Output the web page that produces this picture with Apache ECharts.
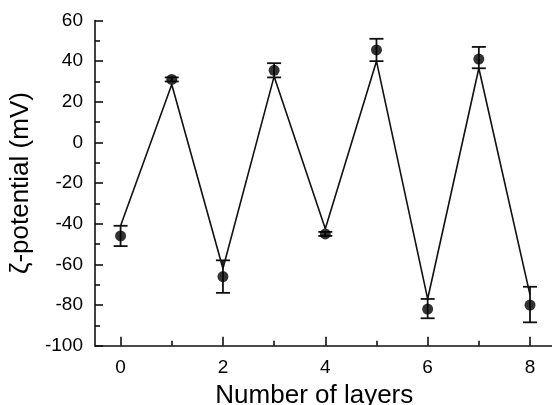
<!DOCTYPE html>
<html>
<head>
<meta charset="utf-8">
<script src="https://cdn.jsdelivr.net/npm/echarts@6/dist/echarts.min.js"></script>
<style>html,body{margin:0;padding:0;background:#fff;}#c{width:552px;height:405px;}</style>
</head>
<body>
<div id="c"></div>
<script>
const layers = [0, 1, 2, 3, 4, 5, 6, 7, 8];
const zeta = [-46, 31, -66, 35.5, -45, 45.5, -82, 41, -80];
const errLow = [-51, 30, -74, 32, -46, 40, -86.5, 36.5, -88.5];
const errHigh = [-41, 32, -58, 39, -44, 51, -77, 47, -71];
const trend = [-41, 28.5, -62, 32.5, -42.5, 40, -77, 36.5, -75];
const yTicks = [-100, -80, -60, -40, -20, 0, 20, 40, 60];
const xMajor = [0, 2, 4, 6, 8];
const xMinor = [1, 3, 5, 7];

const font = '"Liberation Sans", Arial, sans-serif';
const chart = echarts.init(document.getElementById('c'), null, {renderer: 'canvas'});

const pts = layers.map((x, i) => [x, zeta[i]]);
const errData = layers.map((x, i) => [x, errLow[i], errHigh[i]]);
const trendData = layers.map((x, i) => [x, trend[i]]);

chart.setOption({
  backgroundColor: '#fff',
  animation: false,
  grid: {left: 95, top: 20.5, right: -3.6, bottom: 59.3, containLabel: false, outerBoundsMode: 'none'},
  xAxis: [{
    type: 'value', min: -0.5, max: 8.5,
    name: 'Number of layers', nameLocation: 'middle', nameGap: 35,
    nameTextStyle: {fontFamily: font, fontSize: 26, color: '#000', padding: [0, 22, 0, 0]},
    axisLine: {onZero: false, lineStyle: {color: '#111', width: 1.6}},
    axisTick: {inside: true, length: 9, lineStyle: {color: '#111', width: 1.6}, customValues: xMajor},
    axisLabel: {fontFamily: font, fontSize: 19, color: '#000', margin: 13, customValues: xMajor},
    splitLine: {show: false}
  }, {
    type: 'value', min: -0.5, max: 8.5, position: 'bottom',
    axisLine: {show: false, onZero: false},
    axisTick: {inside: true, length: 5, lineStyle: {color: '#111', width: 1.6}, customValues: xMinor},
    axisLabel: {show: false, customValues: xMinor},
    splitLine: {show: false}
  }],
  yAxis: {
    type: 'value', min: yTicks[0], max: yTicks[yTicks.length - 1], interval: 20,
    name: 'ζ-potential (mV)', nameLocation: 'middle', nameGap: 38, nameRotate: 90,
    nameTextStyle: {fontFamily: font, fontSize: 26, color: '#000'},
    axisLine: {show: true, onZero: false, lineStyle: {color: '#111', width: 1.6}},
    axisTick: {inside: true, length: 8, lineStyle: {color: '#111', width: 1.6}},
    minorTick: {show: true, splitNumber: 2, length: 5, lineStyle: {color: '#111', width: 1.6}},
    axisLabel: {fontFamily: font, fontSize: 19, color: '#000', margin: 12},
    splitLine: {show: false}
  },
  series: [{
    type: 'line', data: trendData, symbol: 'none',
    lineStyle: {color: '#111', width: 1.6}, z: 2
  }, {
    type: 'custom', data: errData, z: 3,
    renderItem: function (params, api) {
      const x = api.value(0);
      const lo = api.coord([x, api.value(1)]);
      const hi = api.coord([x, api.value(2)]);
      const hw = 7;
      const st = {stroke: '#111', lineWidth: 1.8};
      return {type: 'group', children: [
        {type: 'line', shape: {x1: lo[0], y1: lo[1], x2: hi[0], y2: hi[1]}, style: st},
        {type: 'line', shape: {x1: lo[0] - hw, y1: lo[1], x2: lo[0] + hw, y2: lo[1]}, style: st},
        {type: 'line', shape: {x1: hi[0] - hw, y1: hi[1], x2: hi[0] + hw, y2: hi[1]}, style: st}
      ]};
    }
  }, {
    type: 'scatter', data: pts, symbol: 'circle', symbolSize: 11,
    itemStyle: {color: '#000'}, z: 4
  }]
});
</script>
</body>
</html>
